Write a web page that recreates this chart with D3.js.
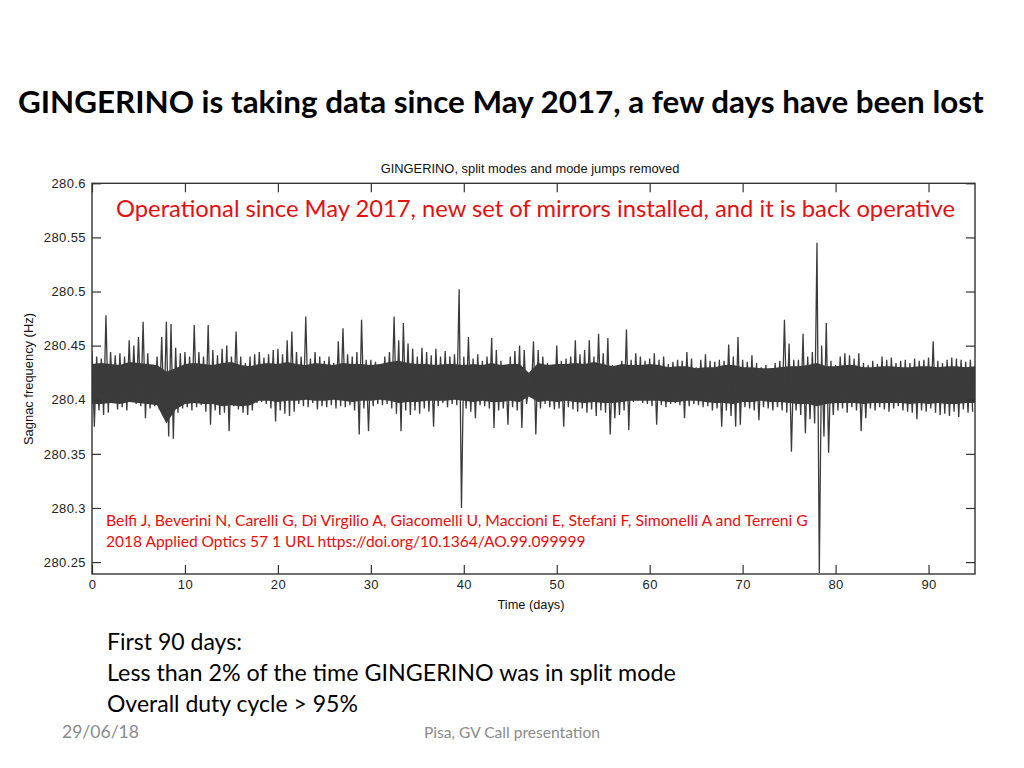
<!DOCTYPE html>
<html>
<head>
<meta charset="utf-8">
<script src="https://cdn.jsdelivr.net/npm/d3@7"></script>
<style>
  body { margin: 0; background: #fff; }
  svg { display: block; }
</style>
</head>
<body>
<svg id="slide" width="1024" height="768"></svg>
<script>
// half-day bins: highest and lowest reading in each bin (Hz)
var binStep = 0.5;
var binHigh = [
  280.445, 280.440, 280.438, 280.478, 280.444, 280.441, 280.443, 280.440, 280.455, 280.450,
  280.458, 280.472, 280.443, 280.432, 280.440, 280.458, 280.472, 280.470, 280.448, 280.443,
  280.444, 280.440, 280.469, 280.444, 280.440, 280.469, 280.446, 280.441, 280.447, 280.450,
  280.440, 280.463, 280.440, 280.434, 280.440, 280.442, 280.444, 280.439, 280.442, 280.446,
  280.447, 280.442, 280.455, 280.463, 280.444, 280.440, 280.477, 280.438, 280.444, 280.440,
  280.436, 280.440, 280.434, 280.454, 280.466, 280.442, 280.440, 280.444, 280.474, 280.437,
  280.437, 280.435, 280.433, 280.440, 280.444, 280.477, 280.455, 280.471, 280.452, 280.447,
  280.440, 280.448, 280.444, 280.441, 280.447, 280.440, 280.445, 280.440, 280.442, 280.502,
  280.440, 280.458, 280.438, 280.442, 280.436, 280.440, 280.457, 280.446, 280.436, 280.432,
  280.440, 280.445, 280.450, 280.446, 280.412, 280.454, 280.446, 280.440, 280.434, 280.432,
  280.450, 280.436, 280.438, 280.440, 280.455, 280.442, 280.446, 280.455, 280.440, 280.461,
  280.443, 280.457, 280.432, 280.431, 280.436, 280.465, 280.437, 280.443, 280.440, 280.436,
  280.438, 280.443, 280.437, 280.440, 280.433, 280.435, 280.437, 280.436, 280.444, 280.438,
  280.430, 280.437, 280.442, 280.436, 280.435, 280.437, 280.436, 280.451, 280.440, 280.458,
  280.437, 280.435, 280.441, 280.434, 280.430, 280.432, 280.429, 280.434, 280.436, 280.474,
  280.452, 280.437, 280.437, 280.461, 280.440, 280.444, 280.545, 280.450, 280.471, 280.436,
  280.432, 280.440, 280.443, 280.441, 280.438, 280.443, 280.434, 280.432, 280.436, 280.433,
  280.440, 280.437, 280.439, 280.434, 280.436, 280.437, 280.434, 280.438, 280.436, 280.437,
  280.439, 280.454, 280.436, 280.434, 280.437, 280.439, 280.438, 280.437, 280.435, 280.437
];
var binLow = [
  280.375, 280.390, 280.386, 280.388, 280.400, 280.391, 280.393, 280.390, 280.398, 280.396,
  280.394, 280.383, 280.392, 280.394, 280.391, 280.385, 280.366, 280.364, 280.388, 280.392,
  280.393, 280.390, 280.393, 280.395, 280.389, 280.377, 280.390, 280.386, 280.388, 280.371,
  280.394, 280.391, 280.388, 280.386, 280.390, 280.397, 280.398, 280.396, 280.392, 280.380,
  280.390, 280.387, 280.385, 280.389, 280.396, 280.394, 280.393, 280.397, 280.391, 280.394,
  280.393, 280.395, 280.392, 280.394, 280.393, 280.395, 280.390, 280.368, 280.392, 280.371,
  280.394, 280.396, 280.395, 280.396, 280.392, 280.387, 280.371, 280.390, 280.386, 280.390,
  280.387, 280.392, 280.389, 280.375, 280.394, 280.397, 280.393, 280.396, 280.395, 280.300,
  280.392, 280.389, 280.383, 280.395, 280.394, 280.392, 280.374, 280.390, 280.392, 280.377,
  280.393, 280.390, 280.374, 280.396, 280.404, 280.368, 280.392, 280.396, 280.393, 280.391,
  280.392, 280.375, 280.393, 280.391, 280.389, 280.392, 280.388, 280.391, 280.385, 280.390,
  280.388, 280.368, 280.383, 280.386, 280.390, 280.372, 280.398, 280.399, 280.397, 280.396,
  280.394, 280.377, 280.395, 280.393, 280.396, 280.397, 280.395, 280.383, 280.394, 280.396,
  280.395, 280.393, 280.394, 280.390, 280.392, 280.375, 280.390, 280.385, 280.375, 280.377,
  280.393, 280.392, 280.390, 280.381, 280.393, 280.392, 280.390, 280.393, 280.390, 280.388,
  280.352, 280.390, 280.386, 280.369, 280.382, 280.378, 280.240, 280.366, 280.351, 280.386,
  280.390, 280.392, 280.388, 280.393, 280.390, 280.371, 280.383, 280.392, 280.390, 280.393,
  280.391, 280.389, 280.392, 280.394, 280.390, 280.389, 280.388, 280.382, 280.390, 280.389,
  280.392, 280.388, 280.386, 280.387, 280.385, 280.389, 280.384, 280.391, 280.388, 280.389
];
// dense core of the trace, one value per day (day 0 .. 95)
var coreHigh = [
  280.433, 280.434, 280.433, 280.432, 280.435, 280.434, 280.433, 280.432, 280.426, 280.429,
  280.433, 280.434, 280.433, 280.432, 280.434, 280.435, 280.432, 280.431, 280.433, 280.434,
  280.433, 280.435, 280.433, 280.432, 280.434, 280.433, 280.432, 280.434, 280.433, 280.433,
  280.432, 280.433, 280.435, 280.436, 280.434, 280.433, 280.433, 280.432, 280.433, 280.433,
  280.432, 280.433, 280.432, 280.434, 280.432, 280.433, 280.433, 280.425, 280.434, 280.432,
  280.433, 280.433, 280.434, 280.433, 280.435, 280.433, 280.431, 280.433, 280.432, 280.432,
  280.433, 280.432, 280.430, 280.431, 280.431, 280.429, 280.430, 280.430, 280.432, 280.432,
  280.430, 280.430, 280.429, 280.429, 280.430, 280.431, 280.431, 280.432, 280.434, 280.431,
  280.431, 280.432, 280.432, 280.430, 280.430, 280.431, 280.431, 280.430, 280.430, 280.431,
  280.431, 280.430, 280.431, 280.431, 280.430, 280.431
];
var coreLow = [
  280.396, 280.396, 280.397, 280.396, 280.398, 280.397, 280.396, 280.395, 280.378, 280.391,
  280.396, 280.397, 280.396, 280.396, 280.394, 280.395, 280.394, 280.395, 280.399, 280.399,
  280.398, 280.399, 280.399, 280.400, 280.399, 280.399, 280.400, 280.399, 280.398, 280.399,
  280.399, 280.400, 280.399, 280.397, 280.398, 280.398, 280.399, 280.399, 280.399, 280.400,
  280.399, 280.398, 280.399, 280.398, 280.398, 280.399, 280.398, 280.403, 280.398, 280.399,
  280.398, 280.399, 280.398, 280.397, 280.398, 280.397, 280.397, 280.398, 280.399, 280.399,
  280.399, 280.399, 280.398, 280.398, 280.399, 280.399, 280.398, 280.397, 280.397, 280.396,
  280.398, 280.398, 280.399, 280.398, 280.398, 280.397, 280.396, 280.396, 280.394, 280.396,
  280.397, 280.397, 280.397, 280.396, 280.397, 280.397, 280.397, 280.397, 280.396, 280.397,
  280.396, 280.397, 280.396, 280.396, 280.397, 280.397
];
var xTicks = [0, 10, 20, 30, 40, 50, 60, 70, 80, 90];
var yTicks = [280.25, 280.3, 280.35, 280.4, 280.45, 280.5, 280.55, 280.6];

var slideTitle = "GINGERINO is taking data since May 2017, a few days have been lost";
var chartTitle = "GINGERINO, split modes and mode jumps removed";
var redNote = "Operational since May 2017, new set of mirrors installed, and it is back operative";
var citation = [
  "Belfi J, Beverini N, Carelli G, Di Virgilio A, Giacomelli U, Maccioni E, Stefani F, Simonelli A and Terreni G",
  "2018 Applied Optics 57 1 URL https://doi.org/10.1364/AO.99.099999"
];
var bullets = [
  "First 90 days:",
  "Less than 2% of the time GINGERINO was in split mode",
  "Overall duty cycle > 95%"
];

var svg = d3.select("#slide");
var box = {left: 92, right: 975, top: 183.3, bottom: 574};
var ink = "#3b3b3b";
var red = "#e3100f";
var slideFont = "Lato, 'Open Sans', sans-serif";
var plotFont = "'Liberation Sans', Arial, sans-serif";

// scale a text's font size so that it spans the given width
function fit(sel, w) {
  var len = sel.node().getComputedTextLength();
  var fs = parseFloat(sel.attr("font-size"));
  sel.attr("font-size", (fs * w / len).toFixed(2));
  return sel;
}

var x = d3.scaleLinear().domain([0, 95]).range([box.left, box.right]);
var y = d3.scaleLinear().domain([280.239, 280.6]).range([box.bottom, box.top]);

svg.append("text")
  .attr("x", 18).attr("y", 113)
  .attr("font-family", slideFont).attr("font-weight", 700)
  .attr("font-size", 28).attr("fill", "#000")
  .text(slideTitle)
  .call(fit, 966);

svg.append("clipPath").attr("id", "plotclip")
  .append("rect")
  .attr("x", box.left).attr("y", box.top)
  .attr("width", box.right - box.left).attr("height", box.bottom - box.top);

var plot = svg.append("g").attr("clip-path", "url(#plotclip)");

var core = d3.area()
  .x((d, i) => x(i))
  .y0((d, i) => y(coreLow[i]))
  .y1((d) => y(d));

plot.append("path")
  .attr("d", core(coreHigh))
  .attr("fill", ink);

// trace swings between the high and low reading of each bin
var trace = [];
binHigh.forEach(function(h, i) {
  trace.push([i * binStep, h]);
  trace.push([i * binStep + binStep / 2, binLow[i]]);
});

var line = d3.line()
  .x((d) => x(d[0]))
  .y((d) => y(d[1]));

plot.append("path")
  .attr("d", line(trace))
  .attr("fill", "none")
  .attr("stroke", ink)
  .attr("stroke-width", 1.3);

// axes, ticks drawn inside the frame
function styleAxis(g) {
  g.select(".domain").remove();
  g.selectAll(".tick line").attr("stroke", "#333").attr("stroke-width", 1.2);
  g.selectAll("text")
    .attr("font-family", plotFont).attr("font-size", 13)
    .attr("letter-spacing", "0.4px").attr("fill", "#222");
}

svg.append("g")
  .attr("transform", "translate(0," + box.bottom + ")")
  .call(d3.axisBottom(x).tickValues(xTicks).tickSize(-9).tickPadding(6).tickFormat(d3.format("d")))
  .call(styleAxis);

svg.append("g")
  .attr("transform", "translate(0," + box.top + ")")
  .call(d3.axisTop(x).tickValues(xTicks).tickSize(-9).tickFormat(""))
  .call(styleAxis);

svg.append("g")
  .attr("transform", "translate(" + box.left + ",0)")
  .call(d3.axisLeft(y).tickValues(yTicks).tickSize(-9).tickPadding(6).tickFormat((d) => +d.toFixed(2)))
  .call(styleAxis);

svg.append("g")
  .attr("transform", "translate(" + box.right + ",0)")
  .call(d3.axisRight(y).tickValues(yTicks).tickSize(-9).tickFormat(""))
  .call(styleAxis);

svg.append("rect")
  .attr("x", box.left).attr("y", box.top)
  .attr("width", box.right - box.left).attr("height", box.bottom - box.top)
  .attr("fill", "none").attr("stroke", "#333").attr("stroke-width", 1.4);

svg.append("text")
  .attr("x", 530).attr("y", 173)
  .attr("text-anchor", "middle")
  .attr("font-family", plotFont).attr("font-size", 12).attr("fill", "#111")
  .text(chartTitle)
  .call(fit, 299);

svg.append("text")
  .attr("x", 531).attr("y", 609)
  .attr("text-anchor", "middle")
  .attr("font-family", plotFont).attr("font-size", 13).attr("fill", "#111")
  .text("Time (days)")
  .call(fit, 67);

svg.append("text")
  .attr("transform", "translate(33,379) rotate(-90)")
  .attr("text-anchor", "middle")
  .attr("font-family", plotFont).attr("font-size", 13).attr("fill", "#111")
  .text("Sagnac frequency (Hz)")
  .call(fit, 132);

svg.append("text")
  .attr("x", 116).attr("y", 217)
  .attr("font-family", slideFont).attr("font-size", 21).attr("fill", red)
  .text(redNote)
  .call(fit, 839);

var citeWidths = [702, 480];
citation.forEach(function(t, i) {
  svg.append("text")
    .attr("x", 106).attr("y", 526 + i * 20.5)
    .attr("font-family", slideFont).attr("font-size", 14).attr("fill", red)
    .text(t)
    .call(fit, citeWidths[i]);
});

var bulletWidths = [135, 569, 251];
bullets.forEach(function(t, i) {
  svg.append("text")
    .attr("x", 107).attr("y", 650 + i * 31)
    .attr("font-family", slideFont).attr("font-size", 22).attr("fill", "#000")
    .text(t)
    .call(fit, bulletWidths[i]);
});

svg.append("text")
  .attr("x", 62).attr("y", 738)
  .attr("font-family", slideFont).attr("font-size", 14).attr("fill", "#8b8b8b")
  .text("29/06/18")
  .call(fit, 77);

svg.append("text")
  .attr("x", 424).attr("y", 738)
  .attr("font-family", slideFont).attr("font-size", 14).attr("fill", "#8b8b8b")
  .text("Pisa, GV Call presentation")
  .call(fit, 176);
</script>
</body>
</html>
